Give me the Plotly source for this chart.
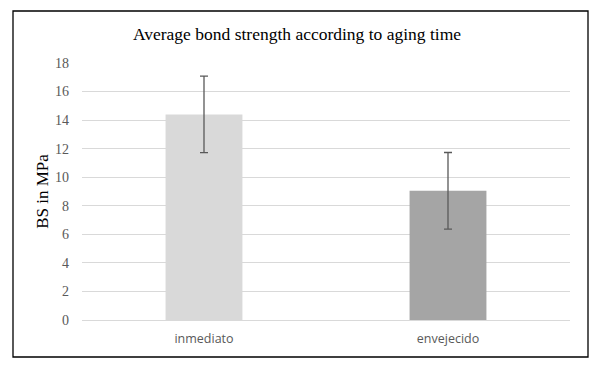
import plotly.graph_objects as go

categories = ["inmediato", "envejecido"]
values = [14.4, 9.05]
errors = [2.68, 2.68]
bar_colors = ["#d9d9d9", "#a5a5a5"]
y_ticks = [0, 2, 4, 6, 8, 10, 12, 14, 16, 18]

# the page body adds an 8px offset; the figure is sized to fill the rest
OFF = 8
W, H = 602 - OFF, 373 - OFF
ml, mr, mt, mb = 82 - OFF, 32, 63 - OFF, 53
pw, ph = W - ml - mr, H - mt - mb

fig = go.Figure(go.Bar(
    x=categories, y=values,
    marker=dict(color=bar_colors, line=dict(width=0)),
    error_y=dict(type="data", array=errors, visible=True,
                 color="#595959", thickness=1.3, width=4),
))

def px_x(p):
    return (p - OFF - ml) / pw

def px_y(p):
    return (H - mb - (p - OFF)) / ph

fig.add_shape(type="rect", xref="paper", yref="paper",
              x0=px_x(13), x1=px_x(588), y0=px_y(357), y1=px_y(11),
              line=dict(color="black", width=1.3), fillcolor="rgba(0,0,0,0)")

fig.update_layout(
    width=W, height=H,
    margin=dict(l=ml, r=mr, t=mt, b=mb),
    paper_bgcolor="white", plot_bgcolor="white",
    bargap=0.685,
    showlegend=False,
    title=dict(text="Average bond strength according to aging time",
               x=(297 - OFF) / W, xref="container", xanchor="center",
               y=1 - (34 - OFF) / H, yanchor="middle",
               font=dict(family="Liberation Serif", size=17.5, color="black")),
    xaxis=dict(showgrid=False, showline=False, ticks="",
               tickfont=dict(family="Open Sans", size=12.5, color="#595959"),
               ticklabelstandoff=9),
    yaxis=dict(range=[0, 18], tickvals=y_ticks, showgrid=True,
               gridcolor="#d9d9d9", gridwidth=1, zeroline=True,
               zerolinecolor="#d9d9d9", zerolinewidth=1, showline=False,
               ticks="", ticklabelstandoff=12,
               tickfont=dict(family="Liberation Serif", size=14, color="#595959"),
               title=dict(text="BS in MPa", standoff=2,
                          font=dict(family="Liberation Serif", size=17, color="black"))),
)

fig.write_html("out.html")
